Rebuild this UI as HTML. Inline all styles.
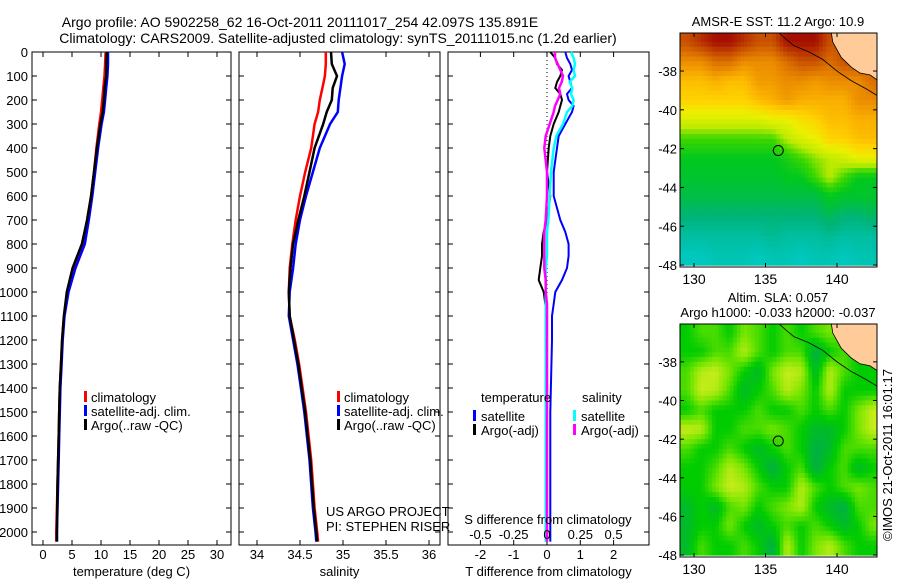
<!DOCTYPE html>
<html><head><meta charset="utf-8"><style>
html,body{margin:0;padding:0;background:#fff;}
svg{display:block;font-family:"Liberation Sans",sans-serif;}
text{font-size:13px;fill:#000;}
</style></head><body>
<svg id="chart" width="900" height="580" viewBox="0 0 900 580">
<text x="300" y="27" text-anchor="middle" style="font-size:14px">Argo profile: AO 5902258_62 16-Oct-2011 20111017_254 42.097S 135.891E</text>
<text x="338" y="43" text-anchor="middle" style="font-size:14px">Climatology: CARS2009. Satellite-adjusted climatology: synTS_20111015.nc (1.2d earlier)</text>
<g id="g1"></g>
<g id="g2"></g>
<g id="g3"></g>
<g id="m1"></g>
<g id="m2"></g>
<text x="778" y="26" text-anchor="middle">AMSR-E SST: 11.2 Argo: 10.9</text>
<text x="778" y="302" text-anchor="middle">Altim. SLA: 0.057</text>
<text x="778" y="317" text-anchor="middle">Argo h1000: -0.033 h2000: -0.037</text>
<text transform="translate(892,455) rotate(-90)" text-anchor="middle">©IMOS 21-Oct-2011 16:01:17</text>
<text x="326" y="516">US ARGO PROJECT</text>
<text x="326" y="531">PI: STEPHEN RISER</text>
</svg>
<script>
// ---- data ----
const depthLevels=[0,50,100,150,200,250,300,400,500,600,700,800,900,1000,1100,1200,1300,1400,1500,1600,1700,1800,1900,2000,2040];
const tempClim=[10.8,10.7,10.6,10.4,10.2,10.0,9.7,9.2,8.8,8.3,7.6,6.8,5.3,4.2,3.6,3.3,3.1,2.9,2.8,2.7,2.6,2.5,2.4,2.3,2.3];
const tempSat=[11.2,11.2,11.1,10.9,10.7,10.5,10.1,9.5,9.0,8.5,7.9,7.2,5.6,4.4,3.7,3.4,3.2,3.0,2.9,2.8,2.7,2.6,2.5,2.4,2.4];
const tempArgo=[11.0,10.9,10.9,10.6,10.5,10.3,9.9,9.3,8.8,8.3,7.6,6.7,5.1,4.1,3.6,3.3,3.1,2.9,2.8,2.7,2.6,2.5,2.45,2.4,2.4];
const salClim=[34.80,34.80,34.79,34.76,34.73,34.71,34.67,34.63,34.56,34.50,34.45,34.41,34.38,34.37,34.38,34.44,34.49,34.53,34.57,34.60,34.63,34.65,34.67,34.70,34.71];
const salSat=[34.99,35.02,34.99,34.97,34.95,34.94,34.85,34.73,34.65,34.57,34.50,34.45,34.42,34.38,34.37,34.42,34.47,34.51,34.55,34.58,34.61,34.63,34.65,34.68,34.69];
const salArgo=[34.86,34.87,34.93,34.88,34.87,34.81,34.77,34.67,34.61,34.55,34.48,34.42,34.39,34.37,34.38,34.43,34.48,34.52,34.56,34.59,34.62,34.64,34.66,34.69,34.70];
const diffDepths=[0,25,50,75,100,125,150,175,200,225,250,300,350,400,500,600,700,750,800,850,900,950,1000,1050,1100,1200,1500,2000,2040];
const tDiffSat=[0.55,0.6,0.7,0.75,0.65,0.7,0.75,0.6,0.65,0.8,0.75,0.55,0.35,0.3,0.2,0.2,0.4,0.55,0.65,0.65,0.6,0.45,0.25,0.2,0.15,0.15,0.1,0.1,0.1];
const tDiffArgo=[0.1,0.25,0.3,0.45,0.4,0.3,0.25,0.4,0.45,0.4,0.35,0.2,0.1,0.05,0.0,0.1,0.0,-0.1,-0.15,-0.15,-0.2,-0.25,-0.1,-0.05,0,0,0,-0.02,-0.02];
const sDiffSat=[0.18,0.2,0.21,0.2,0.21,0.17,0.19,0.18,0.2,0.19,0.15,0.12,0.07,0.05,0.03,0.02,0.01,0.0,0.0,0.0,-0.01,-0.01,-0.01,-0.01,-0.01,-0.01,-0.01,-0.01,-0.01];
const sDiffArgo=[0.06,0.06,0.08,0.1,0.12,0.11,0.09,0.1,0.08,0.06,0.05,0.02,-0.01,-0.02,0.0,0.0,-0.01,-0.02,-0.02,-0.02,-0.02,-0.01,-0.01,0,0,0,0,0,0];
const depthTicks=[0,100,200,300,400,500,600,700,800,900,1000,1100,1200,1300,1400,1500,1600,1700,1800,1900,2000];
const tempTicks=[0,5,10,15,20,25,30];
const salTicks=[34,34.5,35,35.5,36];
const tDiffTicks=[-2,-1,0,1,2];
const sDiffTicks=[-0.5,-0.25,0,0.25,0.5];
const sDiffTickLabels=["-0.5","-0.25","0","0.25","0.5"];
const sstGrid=[
[14,14.5,15,15,14.5,14,14,15,15,15,14,14,14,14],
[13,13,13.5,13.5,13,13,13,13.5,14,14,13.5,14,14,14],
[12.3,12.3,12.5,12.3,12.3,12.8,12.8,13,13,12.8,13,13,13,13.5],
[12,12,12,12,12,12.3,12.5,12.8,12.5,12.5,12.5,12.5,13,13],
[11.3,11.3,11.3,11.3,11.3,11.3,11.5,11.5,11.8,12,12.3,12.3,12.5,12.5],
[10.5,10.5,10.5,10.5,10.5,10.5,10.5,11,11.3,11.5,12,12,12.3,12.3],
[10,10,10,10,10,10,10,10.2,10.5,10.8,11,11.2,11.5,11.5],
[9.8,9.8,9.8,9.8,9.8,9.8,9.8,10,10,10.5,11,10.5,10,10],
[9.5,9.5,9.5,9.5,9.5,9.5,9.5,9.5,9.5,9.5,10,9.8,9.8,9.8],
[9,9,9,9,9,9,9,9,9,9,9.3,9,9,9.2],
[8.5,8.5,8.5,8.5,8.5,8.5,8.7,8.5,8.5,8.5,8.7,8.5,8.5,8.5],
[8,8,8.2,8.2,8.2,8,8.2,8.2,8,8.2,8.2,8,8.2,8.2]];
const slaGrid=[
[0,0.3,0.3,0,0.5,0.3,0,0.3,0,0.3,0.5,0.3,0,0],
[0,0,0.3,0.3,0.8,0.3,0,0.3,0.3,-0.5,0,0.3,0,0],
[0.3,0.8,0.9,0.5,0,-0.3,0.5,0.9,0.8,-0.3,0.8,0.3,0,0],
[0.3,0.9,0.8,0.3,-0.3,0,0.3,0.8,0.5,0,0.8,0,0,0],
[0,0.3,0,0,0,0.3,0,0,0.3,0,0.3,0,0.5,0.9],
[0.9,0.8,0,0,0.3,0.3,0.5,0.3,0,-0.3,-0.3,0,0.5,0.9],
[0.3,0,0,0.3,0,-0.3,0,0.3,0,-0.5,-0.3,0.3,0.3,0.3],
[0,0,0.3,0.8,0.5,0,-0.5,0,0.3,-0.5,0,0.3,-0.3,0],
[0,0,0.5,0.9,0.8,0.3,0,0,0.8,0.3,0,0.3,0.5,0.3],
[-0.3,0,-0.3,0.3,0.5,0,0.3,0.5,0.8,0,-0.3,-0.5,0.3,0.3],
[-0.3,0,0,0.5,0,-0.3,0,0.3,0,0.3,0,-0.3,0,0.5],
[-0.3,0.3,0,0,0.3,0,-0.5,0.8,0,0.5,0.8,0.3,0,0]];
const landLon=[139.6,139.7,140.3,141.0,141.6,142.3,142.9,142.9];
const landLat=[-36.0,-36.5,-37.3,-37.8,-38.1,-38.2,-38.5,-36.0];
const coastLon=[135.9,136.5,137.0,138.0,139.0,140.0,141.0,142.0,142.9];
const coastLat=[-36.0,-36.4,-36.7,-37.0,-37.4,-38.0,-38.5,-38.9,-39.3];
const lonTicks=[130,135,140];
const latTicks=[-38,-40,-42,-44,-46,-48];
const floatLon=135.891, floatLat=-42.097;

const NS="http://www.w3.org/2000/svg";
function mk(parent,tag,attrs){const e=document.createElementNS(NS,tag);for(const k in attrs)e.setAttribute(k,attrs[k]);parent.appendChild(e);return e;}
const yD=d=>52+d*0.24;
const PB=545;

function panel(g,x0,x1,xScale,ticks,labels,xlabel,leftLabels){
  mk(g,'rect',{x:x0,y:52,width:x1-x0,height:PB-52,fill:'none',stroke:'#000','stroke-width':1});
  depthTicks.forEach(d=>{
    const y=yD(d);
    const t=mk(g,'line',{x1:x0,x2:x0+5,y1:y,y2:y,stroke:'#000'});
    
    
    const t2=mk(g,'line',{x1:x1-5,x2:x1,y1:y,y2:y,stroke:'#000'});
    
    
    if(leftLabels){const tx=mk(g,'text',{x:x0-4,y:y+5,'text-anchor':'end'});tx.textContent=d;
      
      }
  });
  ticks.forEach((v,i)=>{const x=xScale(v);
    mk(g,'line',{x1:x,x2:x,y1:PB,y2:PB-5,stroke:'#000'});
    mk(g,'line',{x1:x,x2:x,y1:52,y2:57,stroke:'#000'});
    const tx=mk(g,'text',{x:x,y:559,'text-anchor':'middle'});tx.textContent=labels?labels[i]:v;
    
    
  });
  const xl=mk(g,'text',{x:(x0+x1)/2,y:576,'text-anchor':'middle'});xl.textContent=xlabel;
  
  
}
function line(g,depths,vals,xs,color,name,w){
  const pts=depths.map((d,i)=>xs(vals[i]).toFixed(1)+','+yD(d).toFixed(1)).join(' ');
  const p=mk(g,'polyline',{points:pts,fill:'none',stroke:color,'stroke-width':w||2.5});
  
  
}
function legend(g,bx,tx,y,color,label){
  mk(g,'rect',{x:bx,y:y-6,width:3,height:11,fill:color});
  const t=mk(g,'text',{x:tx,y:y+5});t.textContent=label;
  
  
}
// panel 1
const g1=document.getElementById('g1');
const xT=v=>43+v*5.8;
panel(g1,32,231,xT,tempTicks,null,'temperature (deg C)',true);
line(g1,depthLevels,tempClim,xT,'#ff0000','temp-climatology-line');
line(g1,depthLevels,tempSat,xT,'#0000ff','temp-satellite-line');
line(g1,depthLevels,tempArgo,xT,'#000000','temp-argo-line');
legend(g1,84,91,397,'#ff0000','climatology');
legend(g1,84,91,411,'#0000ff','satellite-adj. clim.');
legend(g1,84,91,425,'#000000','Argo(..raw -QC)');
// panel 2
const g2=document.getElementById('g2');
const xS=v=>257+(v-34)*86;
panel(g2,239,440,xS,salTicks,null,'salinity',false);
line(g2,depthLevels,salClim,xS,'#ff0000','sal-climatology-line');
line(g2,depthLevels,salSat,xS,'#0000ff','sal-satellite-line');
line(g2,depthLevels,salArgo,xS,'#000000','sal-argo-line');
legend(g2,337,344,397,'#ff0000','climatology');
legend(g2,337,344,411,'#0000ff','satellite-adj. clim.');
legend(g2,337,344,425,'#000000','Argo(..raw -QC)');
// panel 3
const g3=document.getElementById('g3');
const xTD=v=>547+v*33.3;
const xSD=v=>547+v*133.2;
panel(g3,448,649,xTD,tDiffTicks,null,'T difference from climatology',false);
mk(g3,'line',{x1:547,x2:547,y1:52,y2:PB,stroke:'#000','stroke-dasharray':'1,3'});
line(g3,diffDepths,tDiffSat,xTD,'#0000ff','tdiff-satellite-line',2);
line(g3,diffDepths,tDiffArgo,xTD,'#000000','tdiff-argo-line',2);
line(g3,diffDepths,sDiffSat,xSD,'#00ffff','sdiff-satellite-line');
line(g3,diffDepths,sDiffArgo,xSD,'#ff00ff','sdiff-argo-line');
(function(){const t=mk(g3,'text',{x:481,y:402});t.textContent='temperature';


const s=mk(g3,'text',{x:582,y:402});s.textContent='salinity';

})();
legend(g3,473,481,416,'#0000ff','satellite');
legend(g3,473,481,430,'#000000','Argo(-adj)');
legend(g3,573,581,416,'#00ffff','satellite');
legend(g3,573,581,430,'#ff00ff','Argo(-adj)');
(function(){const t=mk(g3,'text',{x:548,y:524,'text-anchor':'middle'});t.textContent='S difference from climatology';


sDiffTicks.forEach((v,i)=>{const tx=mk(g3,'text',{x:xSD(v),y:539,'text-anchor':'middle'});tx.textContent=sDiffTickLabels[i];

});})();

// maps
function lerpColor(stops,v){
  if(v<=stops[0][0])return 'rgb('+stops[0][1].join(',')+')';
  for(let i=1;i<stops.length;i++){if(v<=stops[i][0]){const a=stops[i-1],b=stops[i],t=(v-a[0])/(b[0]-a[0]);
    return 'rgb('+[0,1,2].map(k=>Math.round(a[1][k]+(b[1][k]-a[1][k])*t)).join(',')+')';}}
  return 'rgb('+stops[stops.length-1][1].join(',')+')';
}
const sstStops=[[8,[0,200,190]],[8.5,[0,190,160]],[9,[0,180,120]],[9.5,[0,190,70]],[10,[0,200,30]],[10.5,[60,215,0]],[11,[190,235,0]],[11.5,[235,240,0]],[12,[255,210,0]],[12.5,[250,175,0]],[13,[235,140,0]],[14,[200,80,0]],[15,[165,15,0]]];
const slaStops=[[-0.5,[0,175,70]],[0,[0,204,0]],[0.5,[120,230,0]],[1,[221,238,34]]];
const colorSST=v=>lerpColor(sstStops,v);
const colorSLA=v=>lerpColor(slaStops,v);
function sampleGrid(grid,fr,fc){
  const R=grid.length,C=grid[0].length;
  const cr=Math.min(Math.max(fr,0),R-1),cc=Math.min(Math.max(fc,0),C-1);
  const r0=Math.floor(cr),c0=Math.floor(cc),r1=Math.min(r0+1,R-1),c1=Math.min(c0+1,C-1);
  const tr=cr-r0,tc=cc-c0;
  const a=grid[r0][c0]*(1-tc)+grid[r0][c1]*tc, b=grid[r1][c0]*(1-tc)+grid[r1][c1]*tc;
  return a*(1-tr)+b*tr;
}
function map(gid,top,bottom,grid,colorFn,prefix){
  const g=document.getElementById(gid);
  const L=680,R=877;
  const xL=lon=>694+(lon-130)*14.3;
  const yL=lat=>top+(-36.04-lat)*((bottom-top)/12.06);
  const clipId=prefix+'-clip';
  const cp=mk(g,'clipPath',{id:clipId});mk(cp,'rect',{x:L,y:top,width:R-L,height:bottom-top});
  const cg=mk(g,'g',{'clip-path':'url(#'+clipId+')'});
  const sub=4, step=1/sub;
  for(let r=0;r<grid.length*sub;r++){for(let c=0;c<grid[0].length*sub;c++){
    const lon=129+c*step, lat=-36-r*step;
    const v=sampleGrid(grid,(r+0.5)*step-0.5,(c+0.5)*step-0.5);
    const x=xL(lon),y=yL(lat);
    const cell=mk(cg,'rect',{x:x.toFixed(1),y:y.toFixed(1),width:(xL(lon+step)-x+0.6).toFixed(1),height:(yL(lat-step)-y+0.6).toFixed(1),fill:colorFn(v)});
    
    
  }}
  const land=mk(cg,'polygon',{points:landLon.map((lo,i)=>xL(lo)+','+yL(landLat[i])).join(' '),fill:'#ffcc99',stroke:'#000','stroke-width':0.8});
  
  
  const coast=mk(cg,'polyline',{points:coastLon.map((lo,i)=>xL(lo)+','+yL(coastLat[i])).join(' '),fill:'none',stroke:'#000','stroke-width':0.8});
  
  
  mk(g,'rect',{x:L,y:top,width:R-L,height:bottom-top,fill:'none',stroke:'#000'});
  const fc=mk(g,'circle',{cx:xL(floatLon),cy:yL(floatLat),r:5,fill:'none',stroke:'#000'});
  
  
  lonTicks.forEach(lo=>{const x=xL(lo);
    mk(g,'line',{x1:x,x2:x,y1:bottom,y2:bottom-4,stroke:'#000'});
    mk(g,'line',{x1:x,x2:x,y1:top,y2:top+4,stroke:'#000'});
    const t=mk(g,'text',{x:x,y:bottom+17,'text-anchor':'middle',style:'font-size:14px'});t.textContent=lo;
    
    });
  latTicks.forEach(la=>{const y=yL(la);
    mk(g,'line',{x1:L,x2:L+4,y1:y,y2:y,stroke:'#000'});
    mk(g,'line',{x1:R-4,x2:R,y1:y,y2:y,stroke:'#000'});
    const t=mk(g,'text',{x:L-3,y:y+5,'text-anchor':'end'});t.textContent=la;
    
    });
}
map('m1',33,267,sstGrid,colorSST,'sst');
map('m2',324,557,slaGrid,colorSLA,'sla');
</script>
</body></html>
